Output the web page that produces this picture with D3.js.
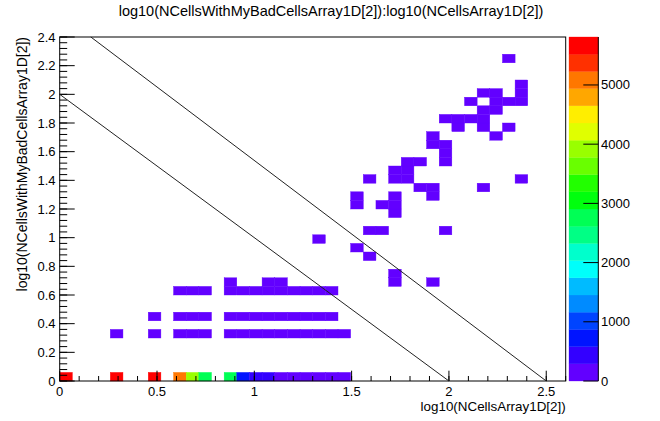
<!DOCTYPE html>
<html>
<head>
<meta charset="utf-8">
<script src="https://cdn.jsdelivr.net/npm/d3@7"></script>
<style>
  html, body { margin: 0; padding: 0; background: #fff; }
  svg { display: block; }
  text { font-family: "Liberation Sans", Arial, Helvetica, sans-serif; fill: #000; }
</style>
</head>
<body>
<svg id="chart" width="660" height="421"></svg>
<script>
// ---------------- data ----------------
const title = "log10(NCellsWithMyBadCellsArray1D[2]):log10(NCellsArray1D[2])";
const xTitle = "log10(NCellsArray1D[2])";
const yTitle = "log10(NCellsWithMyBadCellsArray1D[2])";

// histogram binning
const xRange = [0, 2.6];
const yRange = [0, 2.4];
const nBinsX = 40;
const nBinsY = 40;
const zMax = 5810;
const nLevels = 20;

const xTicks = [0, 0.5, 1, 1.5, 2, 2.5];
const yTicks = [0, 0.2, 0.4, 0.6, 0.8, 1, 1.2, 1.4, 1.6, 1.8, 2, 2.2, 2.4];
const zTicks = [0, 1000, 2000, 3000, 4000, 5000];

// filled cells: x bin index, y bin index, bin content
const cellXBin = [
  0, 4, 7, 9, 10, 11, 13, 14, 15, 16, 17, 18, 19, 20, 21, 22,      // row 0
  4, 7, 9, 10, 11, 13, 14, 15, 16, 17, 18, 19, 20, 21, 22,         // row 5
  7, 9, 10, 11, 13, 14, 15, 16, 17, 18, 19, 20, 21,                // row 7
  9, 10, 11, 13, 14, 15, 16, 17, 18, 19, 20, 21,                   // row 10
  13, 16, 17, 26, 29,                                              // row 11
  26, 24, 23, 20, 24, 25, 30, 26,                                  // rows 12,14,15,16,17,19
  23, 25, 26, 23, 26, 29, 28, 29, 33,                              // rows 20,21,22
  24, 26, 27, 36, 26, 27, 27, 28, 30, 30,                          // rows 23,24,25,26
  29, 30, 29, 34, 31, 33, 35, 30, 31, 32, 33,                      // rows 27,28,29,30
  33, 34, 32, 34, 35, 36, 33, 34, 36, 36, 35                       // rows 31,32,33,34,37
];
const cellYBin = [
  0, 0, 0, 0, 0, 0, 0, 0, 0, 0, 0, 0, 0, 0, 0, 0,
  5, 5, 5, 5, 5, 5, 5, 5, 5, 5, 5, 5, 5, 5, 5,
  7, 7, 7, 7, 7, 7, 7, 7, 7, 7, 7, 7, 7,
  10, 10, 10, 10, 10, 10, 10, 10, 10, 10, 10, 10,
  11, 11, 11, 11, 11,
  12, 14, 15, 16, 17, 17, 17, 19,
  20, 20, 20, 21, 21, 21, 22, 22, 22,
  23, 23, 23, 23, 24, 24, 25, 25, 25, 26,
  27, 27, 28, 28, 29, 29, 29, 30, 30, 30, 30,
  31, 31, 32, 32, 32, 32, 33, 33, 33, 34, 37
];
const cellCount = [
  5650, 5600, 5560, 5100, 3900, 2750, 2700, 720, 450, 350, 200, 150, 110, 80, 60, 40,
  160, 120, 100, 90, 80, 70, 60, 50, 45, 40, 35, 30, 25, 20, 15,
  60, 50, 45, 40, 35, 30, 28, 25, 22, 20, 18, 15, 12,
  30, 25, 22, 20, 18, 16, 15, 14, 12, 10, 8, 6,
  6, 8, 7, 2, 2,
  2, 1, 1, 1, 2, 1, 1, 1,
  1, 2, 2, 2, 2, 1, 2, 2, 1,
  1, 3, 3, 1, 3, 3, 2, 2, 2, 2,
  2, 2, 2, 1, 1, 2, 1, 2, 3, 3, 2,
  2, 2, 1, 2, 2, 2, 2, 2, 2, 2, 1
];

// two reference lines (data coordinates)
const line1 = [[0, 2.0], [2.0, 0]];
const line2 = [[0.16, 2.4], [2.5, 0]];

// ROOT "pretty" palette colours for the 20 contour levels (style)
const palette = [
  "#6200ff", "#3300ff", "#0014ff", "#0044ff", "#008bff",
  "#00bbff", "#00fffb", "#00ffcc", "#00ff85", "#00ff55",
  "#00ff0e", "#22ff00", "#69ff00", "#99ff00", "#e0ff00",
  "#ffee00", "#ffa700", "#ff7700", "#ff3000", "#ff0000"
];

// ---------------- layout ----------------
const svg = d3.select("#chart");
const frame = { left: 59.7, right: 565.7, top: 37, bottom: 381 };
const bar = { left: 569, right: 598.3 };

const x = d3.scaleLinear().domain(xRange).range([frame.left, frame.right]);
const y = d3.scaleLinear().domain(yRange).range([frame.bottom, frame.top]);
const z = d3.scaleLinear().domain([0, zMax]).range([frame.bottom, frame.top]);

const bwX = (xRange[1] - xRange[0]) / nBinsX;
const bwY = (yRange[1] - yRange[0]) / nBinsY;
const levelOf = v => Math.max(0, Math.min(nLevels - 1, Math.floor(v / (zMax / nLevels))));

const cells = cellXBin.map((ix, k) => ({ ix, iy: cellYBin[k], v: cellCount[k] }));

// cells
svg.append("g").selectAll("rect").data(cells).join("rect")
  .attr("x", d => x(xRange[0] + d.ix * bwX))
  .attr("y", d => y(yRange[0] + (d.iy + 1) * bwY))
  .attr("width", d => x(xRange[0] + (d.ix + 1) * bwX) - x(xRange[0] + d.ix * bwX))
  .attr("height", d => y(yRange[0] + d.iy * bwY) - y(yRange[0] + (d.iy + 1) * bwY))
  .attr("fill", d => palette[levelOf(d.v)])
  .attr("stroke", d => palette[levelOf(d.v)])
  .attr("stroke-width", 0.4);

// frame
svg.append("rect")
  .attr("x", frame.left).attr("y", frame.top)
  .attr("width", frame.right - frame.left).attr("height", frame.bottom - frame.top)
  .attr("fill", "none").attr("stroke", "#000").attr("stroke-width", 1);

// x ticks (inside, upward)
const xMinor = d3.range(1, 27).map(k => k * 0.1).filter(v => v <= xRange[1] + 1e-9);
svg.append("g").selectAll("line").data(xMinor).join("line")
  .attr("x1", d => x(d)).attr("x2", d => x(d))
  .attr("y1", frame.bottom).attr("y2", frame.bottom - 5)
  .attr("stroke", "#000").attr("stroke-width", 1);
svg.append("g").selectAll("line").data(xTicks).join("line")
  .attr("x1", d => x(d)).attr("x2", d => x(d))
  .attr("y1", frame.bottom).attr("y2", frame.bottom - 10.3)
  .attr("stroke", "#000").attr("stroke-width", 1);
svg.append("g").selectAll("text").data(xTicks).join("text")
  .attr("x", d => x(d)).attr("y", 396)
  .attr("text-anchor", "middle").attr("font-size", 13)
  .text(d => d3.format("")(d));

// y ticks (inside, rightward)
const yMinor = d3.range(0, 61).map(k => k * 0.04);
svg.append("g").selectAll("line").data(yMinor).join("line")
  .attr("x1", frame.left).attr("x2", frame.left + 7.5)
  .attr("y1", d => y(d)).attr("y2", d => y(d))
  .attr("stroke", "#000").attr("stroke-width", 1);
svg.append("g").selectAll("line").data(yTicks).join("line")
  .attr("x1", frame.left).attr("x2", frame.left + 15)
  .attr("y1", d => y(d)).attr("y2", d => y(d))
  .attr("stroke", "#000").attr("stroke-width", 1);
svg.append("g").selectAll("text").data(yTicks).join("text")
  .attr("x", 55.5).attr("y", d => y(d) + 4.5)
  .attr("text-anchor", "end").attr("font-size", 13)
  .text(d => d3.format("")(d));

// reference lines
const lineGen = d3.line().x(d => x(d[0])).y(d => y(d[1]));
[line1, line2].forEach(l => {
  svg.append("path").attr("d", lineGen(l))
    .attr("fill", "none").attr("stroke", "#222").attr("stroke-width", 1);
});

// colour bar
const levels = d3.range(nLevels);
svg.append("g").selectAll("rect").data(levels).join("rect")
  .attr("x", bar.left)
  .attr("y", k => z((k + 1) * zMax / nLevels))
  .attr("width", bar.right - bar.left)
  .attr("height", k => z(k * zMax / nLevels) - z((k + 1) * zMax / nLevels))
  .attr("fill", k => palette[k])
  .attr("stroke", k => palette[k]).attr("stroke-width", 0.3);
svg.append("line")
  .attr("x1", bar.right).attr("x2", bar.right)
  .attr("y1", frame.top).attr("y2", frame.bottom)
  .attr("stroke", "#000").attr("stroke-width", 1);
svg.append("g").selectAll("line").data(zTicks).join("line")
  .attr("x1", bar.right - 15).attr("x2", bar.right)
  .attr("y1", d => z(d)).attr("y2", d => z(d))
  .attr("stroke", "#000").attr("stroke-width", 1);
svg.append("g").selectAll("text").data(zTicks).join("text")
  .attr("x", 601).attr("y", d => z(d) + 4.5)
  .attr("text-anchor", "start").attr("font-size", 13)
  .text(d => d);

// titles
svg.append("text").attr("x", 331).attr("y", 16)
  .attr("text-anchor", "middle").attr("font-size", 14.5).text(title);
svg.append("text").attr("x", frame.right).attr("y", 411)
  .attr("text-anchor", "end").attr("font-size", 13.4).text(xTitle);
svg.append("text")
  .attr("transform", `translate(27,${frame.top}) rotate(-90)`)
  .attr("text-anchor", "end").attr("font-size", 14).text(yTitle);
</script>
</body>
</html>
